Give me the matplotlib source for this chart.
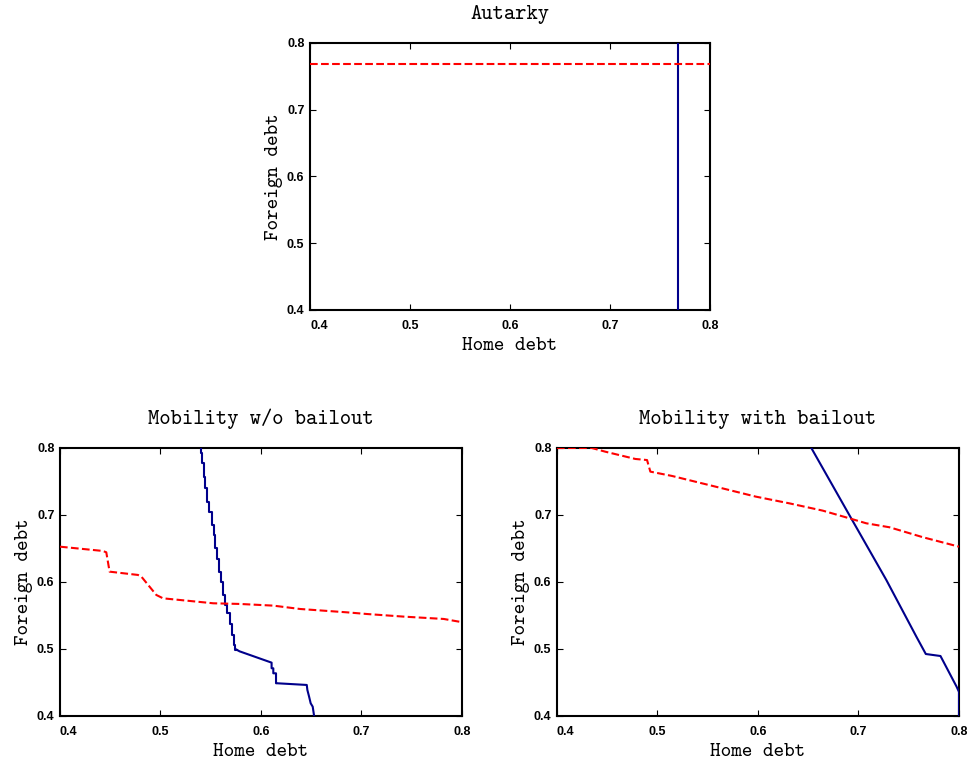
import numpy as np
import matplotlib
matplotlib.use("Agg")
import matplotlib.pyplot as plt

# ── Autarky: both reaction lines are constant ──
aut_home_x = [0.768, 0.768]
aut_home_y = [0.4, 0.8]
aut_foreign_x = [0.4, 0.8]
aut_foreign_y = [0.768, 0.768]

# ── Mobility w/o bailout ──
# home reaction (staircase part, drawn with steps-pre)
nob_home_stair_x = [0.5408, 0.5418, 0.5431, 0.5448, 0.5468, 0.5488, 0.5508, 0.5528, 0.5544, 0.5561,
                    0.5581, 0.5601, 0.5624, 0.5644, 0.5664, 0.5691, 0.5711, 0.5727, 0.5741, 0.5757]
nob_home_stair_y = [0.800, 0.792, 0.777, 0.757, 0.740, 0.720, 0.705, 0.685, 0.670, 0.650,
                    0.635, 0.615, 0.600, 0.581, 0.566, 0.553, 0.538, 0.521, 0.506, 0.499]
# home reaction (lower part)
nob_home_tail_x = [0.5757, 0.5787, 0.6106, 0.6106, 0.6123, 0.6123, 0.6150, 0.6150, 0.6163,
                   0.6456, 0.6462, 0.6479, 0.6495, 0.6515, 0.6529]
nob_home_tail_y = [0.499, 0.4965, 0.4796, 0.4712, 0.4712, 0.4637, 0.4637, 0.4488, 0.4488,
                   0.4463, 0.4388, 0.4289, 0.4189, 0.4139, 0.400]
# foreign reaction
nob_foreign_x = [0.400, 0.4427, 0.4461, 0.4494, 0.4776, 0.4810, 0.4959, 0.5026, 0.5425, 0.5525,
                 0.5790, 0.6123, 0.6389, 0.6855, 0.7054, 0.7420, 0.7819, 0.800]
nob_foreign_y = [0.6527, 0.6463, 0.6443, 0.6154, 0.6105, 0.6080, 0.5806, 0.5756, 0.5697, 0.5682,
                 0.5672, 0.5647, 0.5597, 0.5547, 0.5522, 0.5483, 0.5448, 0.5400]

# ── Mobility with bailout ──
bail_home_x = [0.6527, 0.6937, 0.7277, 0.7576, 0.7670, 0.7816, 0.7976, 0.800, 0.800]
bail_home_y = [0.801, 0.6925, 0.6030, 0.5184, 0.4925, 0.4895, 0.4438, 0.4360, 0.400]
bail_foreign_x = [0.400, 0.4346, 0.4480, 0.4780, 0.4896, 0.4929, 0.5146, 0.5645, 0.5978,
                  0.6311, 0.6644, 0.6910, 0.7077, 0.7310, 0.7643, 0.800]
bail_foreign_y = [0.800, 0.800, 0.7945, 0.7836, 0.7820, 0.7647, 0.7582, 0.7398, 0.7274,
                  0.7174, 0.7065, 0.6950, 0.6876, 0.6816, 0.6667, 0.6527]

ticks = [0.4, 0.5, 0.6, 0.7, 0.8]
HOME_COLOR = "#00008B"
FOREIGN_COLOR = "#FF0000"
TXT_FONT = "cmtt10"
TICK_FONT = "Liberation Sans"

fig = plt.figure(figsize=(9.67, 7.62), dpi=100)
ax_top = fig.add_axes([0.3206, 0.5932, 0.4137, 0.3504])
ax_bl = fig.add_axes([0.0620, 0.0604, 0.4157, 0.3517])
ax_br = fig.add_axes([0.5760, 0.0604, 0.4157, 0.3517])


def style_axis(ax, title):
    ax.set_xlim(0.4, 0.8)
    ax.set_ylim(0.4, 0.8)
    ax.set_xticks(ticks)
    ax.set_yticks(ticks)
    ax.set_xticklabels([f"{t:.1f}" for t in ticks], fontsize=9, fontweight="bold", family=TICK_FONT)
    ax.set_yticklabels([f"{t:.1f}" for t in ticks], fontsize=9, fontweight="bold", family=TICK_FONT)
    # first x label sits to the right of the spine
    ax.get_xticklabels()[0].set_horizontalalignment("left")
    ax.tick_params(direction="in", length=4, width=0.8, top=True, right=True)
    ax.tick_params(axis="x", pad=7)
    ax.tick_params(axis="y", pad=4)
    for sp in ax.spines.values():
        sp.set_linewidth(1.5)
    ax.set_title(title, fontsize=15.5, family=TXT_FONT, pad=17)
    ax.set_xlabel("Home debt", fontsize=14.5, family=TXT_FONT, labelpad=4)
    ax.set_ylabel("Foreign debt", fontsize=14.5, family=TXT_FONT, labelpad=3)


# Autarky
ax_top.plot(aut_home_x, aut_home_y, color=HOME_COLOR, lw=1.5, zorder=3)
ax_top.plot(aut_foreign_x, aut_foreign_y, color=FOREIGN_COLOR, lw=1.5, linestyle="--", zorder=3)
style_axis(ax_top, "Autarky")

# Mobility w/o bailout
ax_bl.plot(nob_home_stair_x, nob_home_stair_y, color=HOME_COLOR, lw=1.5, drawstyle="steps-pre", zorder=3)
ax_bl.plot(nob_home_tail_x, nob_home_tail_y, color=HOME_COLOR, lw=1.5, zorder=3)
ax_bl.plot(nob_foreign_x, nob_foreign_y, color=FOREIGN_COLOR, lw=1.5, linestyle="--", zorder=3)
style_axis(ax_bl, "Mobility w/o bailout")

# Mobility with bailout
ax_br.plot(bail_home_x, bail_home_y, color=HOME_COLOR, lw=1.5, zorder=3)
ax_br.plot(bail_foreign_x, bail_foreign_y, color=FOREIGN_COLOR, lw=1.5, linestyle="--", zorder=3)
style_axis(ax_br, "Mobility with bailout")

fig.savefig("out.png", dpi=100)
